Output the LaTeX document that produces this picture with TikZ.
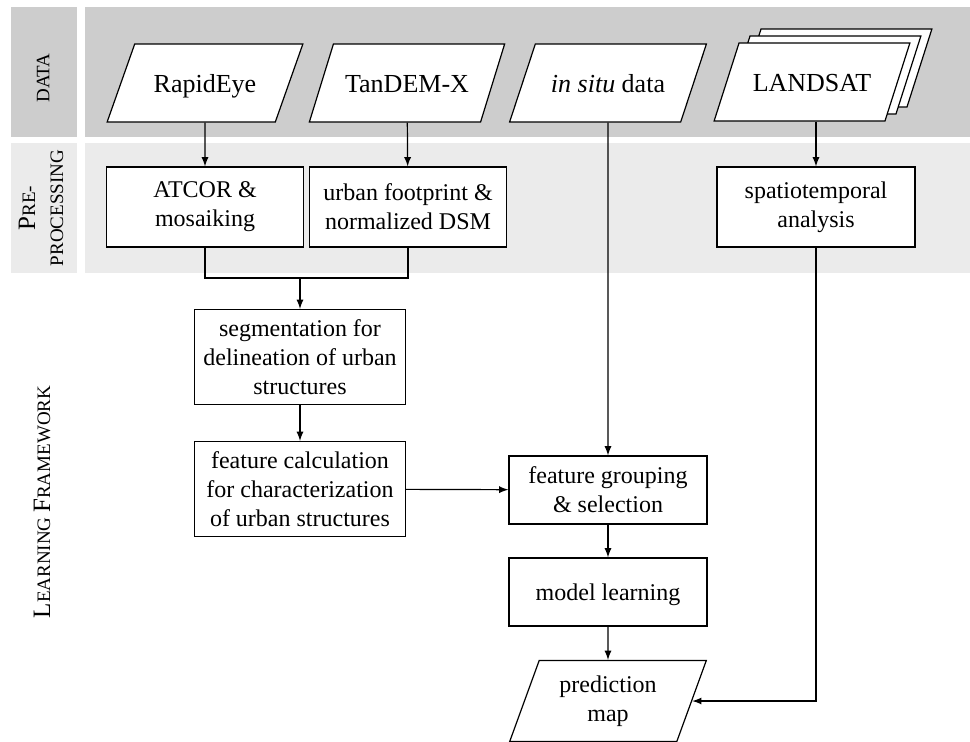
\documentclass[tikz,border=0pt]{standalone}
\usepackage{fontspec}
\setmainfont{Liberation Serif}
\usetikzlibrary{arrows,shapes.geometric,shadows}
\definecolor{bandDark}{HTML}{CDCDCD}
\definecolor{bandLight}{HTML}{EBEBEB}
\newcommand\bigsc[1]{{\fontsize{12.5}{14}\selectfont #1}}
\newcommand\smallsc[1]{{\fontsize{9.5}{14}\selectfont #1}}
\tikzset{
  procbox/.style={draw,fill=white,line width=0.6pt,align=center,inner sep=1pt,
    font=\fontsize{12}{14.5}\selectfont,execute at begin node={\rule{0pt}{11pt}}},
  databox/.style={trapezium,trapezium left angle=75,trapezium right angle=105,
    trapezium stretches=true,draw,fill=white,line width=0.6pt,
    minimum width=98.5pt,minimum height=39pt,inner sep=1pt,
    text height=23pt,text depth=14pt,align=center,
    font=\fontsize{13}{15.5}\selectfont},
  flow/.style={line width=0.6pt,-latex},
  bandlabel/.style={rotate=90,align=center,inner sep=0pt,
    font=\fontsize{9.5}{14}\selectfont}
}
\begin{document}
\begin{tikzpicture}[x=0.5pt,y=-0.5pt]
   \useasboundingbox (0,0) rectangle (970,741);
   % bands
   \fill [bandDark] (11,7) rectangle (77,137);
   \fill [bandDark] (85,7) rectangle (970,137);
   \fill [bandLight] (11,143) rectangle (77,273);
   \fill [bandLight] (85,143) rectangle (970,273);
   \node [bandlabel] (lblData) at (43,78) {\smallsc{DATA}};
   \node [bandlabel] (lblPre) at (41,208) {\bigsc{P}\smallsc{RE-}\\\smallsc{PROCESSING}};
   \node [bandlabel] (lblLearn) at (42,502) {\bigsc{L}\smallsc{EARNING} \bigsc{F}\smallsc{RAMEWORK}};
   % data sources
   \node [databox] (rapideye) at (205,83) {RapidEye};
   \node [databox] (tandemx) at (407,83) {TanDEM-X};
   \node [databox] (insitu) at (608,83) {\textit{in situ} data};
   \node [databox,double copy shadow={shadow xshift=5.5pt,shadow yshift=3.5pt}]
      (landsat) at (812,82) {LANDSAT};
   % pre-processing
   \node [procbox,minimum width=98.5pt,minimum height=40pt] (atcor) at (205,207) {ATCOR \&\\mosaiking};
   \node [procbox,minimum width=98.5pt,minimum height=40pt] (footprint) at (408,207) {urban footprint \&\\normalized DSM};
   \node [procbox,minimum width=99pt,minimum height=40pt] (spatio) at (816,207) {spatiotemporal\\analysis};
   % learning framework
   \node [procbox,minimum width=105.5pt,minimum height=47.5pt] (segment) at (300,357) {segmentation for\\delineation of urban\\structures};
   \node [procbox,minimum width=105.5pt,minimum height=47.5pt] (featcalc) at (300,489) {feature calculation\\for characterization\\of urban structures};
   \node [procbox,minimum width=99pt,minimum height=34pt] (grouping) at (608,490) {feature grouping\\\& selection};
   \node [procbox,minimum width=99pt,minimum height=34pt] (model) at (608,592) {model learning};
   \node [databox,font=\fontsize{12}{14.5}\selectfont,minimum height=40.5pt,
      text height=29.5pt,text depth=9pt] (prediction) at (608,701) {prediction\\map};
   \coordinate (merge) at (300,278);
   % connectors
   \draw [flow] (rapideye) -- (atcor);
   \draw [flow] (tandemx) -- (footprint);
   \draw [flow] (landsat.south -| spatio.north) -- (spatio.north);
   \draw [line width=0.6pt] (atcor.south) |- (merge) -| (footprint.south);
   \draw [flow] (merge) -- (segment.north);
   \draw [flow] (segment) -- (featcalc);
   \draw [flow] (insitu) -- (grouping);
   \draw [flow] (featcalc) -- (grouping);
   \draw [flow] (grouping) -- (model);
   \draw [flow] (model) -- (prediction);
   \draw [flow] (spatio.south) |- (prediction.east);
  \end{tikzpicture}
\end{document}
